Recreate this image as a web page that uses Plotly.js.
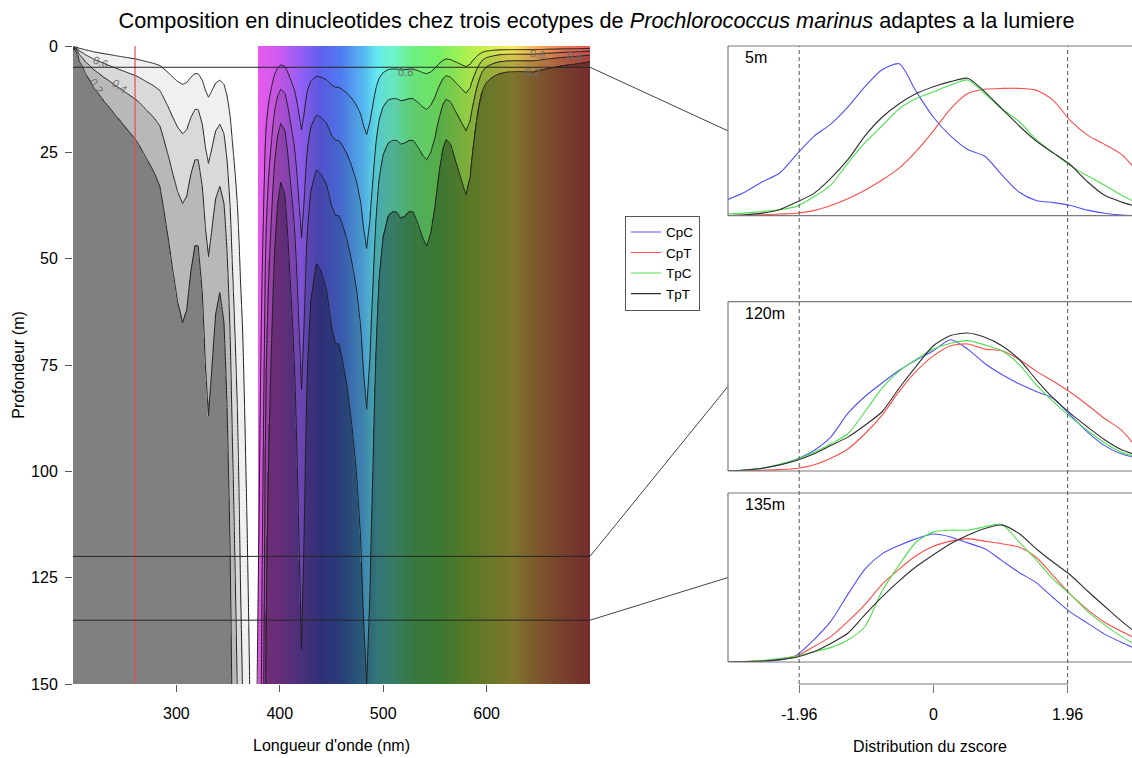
<!DOCTYPE html>
<html><head><meta charset="utf-8">
<script src="https://cdn.plot.ly/plotly-3.0.1.min.js"></script>
<style>html,body{margin:0;padding:0;background:#fff}#chart{width:1132px;height:758px}</style>
</head><body><div id="chart"></div>
<script>
// ---------------- Left panel: light vs wavelength & depth ----------------
// depth (m) at which relative light falls to 0.2, read per wavelength (nm)
const wavelengthKnots = [200,202,206,212,220,230,242,252,262,270,278,284,290,296,301,306,310,314,318,321,325,328,331,334,338,342,346,349,352,354,356,359,362,364,367,371,374,376,378,380,382.3,384.7,386.4,389,392,395,398,401,405,410,414.5,418.5,421,423.5,426.5,430,435.5,440,445,450,454,457,460,465,470,474,478,481,484,487,490,493,496,500,505,509,513,517,521,525,529,534,538,542,546,550,554,558,561,565,570,575,580,584,588,592,596,600,606,612,620,630,645,660,675,690,700];
const depth20Knots   = [0.3,0.8,3.5,6.5,9.8,13,16.6,19.5,22.5,26,29.5,33,42,52,60,65,62,53,47,47,58,75,87,77,63,58,65,85,120,160,200,270,400,480,700,1100,2000,2000,1100,800,457,255,145,100,70,48,37,32,35,55,77,116,142,116,77,60,51,53,57,66,70,70,73,80,90,100,115,135,150,130,100,72,55,45,40,39,39,40.5,40,39,39,42,45,47,44,38,30,24,22,23,27,31,35,31,22,15,10.5,8.5,7.3,6.5,6.1,6.0,6.1,5.3,4.6,4.1,3.7];
const contourLevels = [0.2, 0.4, 0.6, 0.8];
const bandShade = [0.5, 0.72, 0.85, 0.94, 1.0];      // darkening for bands <0.2 ... >0.8
const visibleStart = 380;
const spectrumWl  = [380,400,420,440,460,480,495,510,530,555,580,600,625,650,675,700];
const spectrumRGB = [[230,90,235],[205,90,240],[150,95,245],[95,95,240],[80,125,240],[85,180,240],[100,235,240],[110,245,200],[110,240,130],[120,240,100],[170,240,80],[205,240,80],[250,235,90],[250,175,90],[240,125,90],[230,90,90]];
const dnaPeakWl = 260;
const panelDepths = [5, 120, 135];
const panelLabels = ['5m', '120m', '135m'];
const depthTicks = [0, 25, 50, 75, 100, 125, 150];
const wavelengthTicks = [300, 400, 500, 600];
const contourLabelText = ['0.6','0.4','0.2','0.8','0.6','0.4','0.2'];
const contourLabelWl   = [227, 245, 223, 522, 649, 685, 644];
const contourLabelDepth= [3.8, 9.4, 9.4, 6.1, 1.9, 2.4, 6.1];
const contourLabelAngle= [20, 36, 56, 0, 8, 8, 4];

// ---------------- Right panels: z-score densities ----------------
const zscore = [-3,-2.75,-2.5,-2.25,-2,-1.75,-1.5,-1.25,-1,-0.75,-0.5,-0.25,0,0.25,0.5,0.75,1,1.25,1.5,1.75,2,2.25,2.5,2.75,3];
const zTicks = [-1.96, 0, 1.96];
const dinucleotides = ['CpC', 'CpT', 'TpC', 'TpT'];
const dinucColors = ['#5050ff', '#ff4c4c', '#50e050', '#303030'];
// 5 m
const d5_CpC = [0.096,0.14,0.20,0.25,0.36,0.466,0.54,0.64,0.76,0.86,0.895,0.73,0.58,0.47,0.39,0.35,0.24,0.14,0.09,0.077,0.06,0.033,0.014,0.004,0];
const d5_CpT = [0,0.002,0.005,0.01,0.014,0.03,0.06,0.10,0.15,0.21,0.28,0.38,0.50,0.63,0.72,0.745,0.75,0.75,0.74,0.68,0.56,0.475,0.42,0.36,0.25];
const d5_TpC = [0.01,0.015,0.025,0.035,0.055,0.11,0.18,0.31,0.43,0.53,0.63,0.69,0.73,0.77,0.80,0.72,0.63,0.555,0.45,0.37,0.295,0.235,0.18,0.12,0.07];
const d5_TpT = [0,0.005,0.015,0.035,0.08,0.13,0.22,0.33,0.47,0.58,0.66,0.72,0.76,0.79,0.81,0.73,0.63,0.53,0.44,0.37,0.30,0.20,0.12,0.08,0.05];
// 120 m
const d120_CpC = [0,0.006,0.015,0.035,0.07,0.12,0.20,0.34,0.44,0.52,0.595,0.655,0.71,0.775,0.72,0.635,0.57,0.515,0.47,0.43,0.33,0.23,0.15,0.10,0.075];
const d120_CpT = [0,0.002,0.004,0.008,0.015,0.035,0.075,0.13,0.22,0.33,0.47,0.59,0.68,0.74,0.75,0.72,0.71,0.66,0.59,0.53,0.465,0.39,0.31,0.24,0.12];
const d120_TpC = [0,0.006,0.018,0.04,0.07,0.11,0.16,0.22,0.35,0.49,0.59,0.66,0.72,0.755,0.77,0.745,0.71,0.63,0.51,0.41,0.32,0.24,0.165,0.11,0.08];
const d120_TpT = [0,0.006,0.016,0.035,0.062,0.10,0.15,0.20,0.27,0.35,0.49,0.62,0.74,0.80,0.815,0.79,0.74,0.66,0.54,0.43,0.34,0.26,0.185,0.125,0.09];
// 135 m
const d135_CpC = [0,0.002,0.004,0.01,0.04,0.13,0.24,0.40,0.55,0.64,0.69,0.73,0.757,0.74,0.705,0.67,0.60,0.53,0.47,0.38,0.295,0.23,0.165,0.115,0.07];
const d135_CpT = [0,0.003,0.008,0.015,0.035,0.09,0.15,0.24,0.34,0.46,0.55,0.63,0.685,0.715,0.73,0.715,0.70,0.68,0.62,0.51,0.40,0.31,0.235,0.18,0.13];
const d135_TpC = [0,0.003,0.008,0.02,0.035,0.06,0.085,0.13,0.21,0.42,0.575,0.71,0.77,0.78,0.78,0.80,0.815,0.71,0.605,0.49,0.40,0.30,0.22,0.15,0.09];
const d135_TpT = [0,0.002,0.006,0.015,0.028,0.06,0.11,0.17,0.28,0.385,0.48,0.565,0.635,0.70,0.75,0.79,0.81,0.76,0.67,0.59,0.515,0.42,0.33,0.24,0.16];

const densities = [
  [d5_CpC, d5_CpT, d5_TpC, d5_TpT],
  [d120_CpC, d120_CpT, d120_TpC, d120_TpT],
  [d135_CpC, d135_CpT, d135_TpC, d135_TpT]
];

// ---------------- build grids for the contour ----------------
function interpLog(x, xs, ys) {
  if (x <= xs[0]) return ys[0];
  for (let i = 1; i < xs.length; i++) {
    if (x <= xs[i]) {
      const t = (x - xs[i-1]) / (xs[i] - xs[i-1]);
      return Math.exp(Math.log(ys[i-1]) * (1 - t) + Math.log(ys[i]) * t);
    }
  }
  return ys[ys.length - 1];
}
function spectrumColor(w) {
  if (w < visibleStart) return [255,255,255];
  if (w <= spectrumWl[0]) return spectrumRGB[0];
  for (let i = 1; i < spectrumWl.length; i++) {
    if (w <= spectrumWl[i]) {
      const t = (w - spectrumWl[i-1]) / (spectrumWl[i] - spectrumWl[i-1]);
      return spectrumRGB[i-1].map((c, k) => c * (1 - t) + spectrumRGB[i][k] * t);
    }
  }
  return spectrumRGB[spectrumRGB.length - 1];
}
const wlMin = 200, wlMax = 700, depthMax = 150;
const gridWl = []; for (let w = wlMin; w <= wlMax; w += 1) gridWl.push(w);
const d20 = gridWl.map(w => interpLog(w, wavelengthKnots, depth20Knots));
const relLight = (i, d) => Math.pow(0.2, d / d20[i]);
const gridDepth = []; for (let d = 0; d <= depthMax; d += 1) gridDepth.push(d);
const zGrid = gridDepth.map(d => gridWl.map((w, i) => relLight(i, d)));

const imgDy = 0.25;
const imgRows = [];
for (let d = 0; d <= depthMax + 1e-9; d += imgDy) {
  const row = [];
  for (let i = 0; i < gridWl.length; i++) {
    const z = relLight(i, d);
    let b = 0; while (b < contourLevels.length && z >= contourLevels[b]) b++;
    const f = bandShade[b];
    const c = spectrumColor(gridWl[i]);
    row.push([Math.round(c[0]*f), Math.round(c[1]*f), Math.round(c[2]*f)]);
  }
  imgRows.push(row);
}

// ---------------- geometry ----------------
const W = 1132, H = 758;
const leftX = [73 / W, 590 / W];
const leftY = [1 - 684 / H, 1 - 46 / H];
const rightX = [728 / W, 1];
const panelY = [[1 - 215.7 / H, 1 - 46 / H], [1 - 471 / H, 1 - 301.7 / H], [1 - 662 / H, 1 - 493 / H]];
const paperYofDepth = d => leftY[0] + (1 - d / depthMax) * (leftY[1] - leftY[0]);

const traces = [];
traces.push({type: 'image', z: imgRows, x0: wlMin, dx: 1, y0: 0, dy: imgDy, xaxis: 'x', yaxis: 'y', hoverinfo: 'skip', showlegend: false});
traces.push({type: 'contour', x: gridWl, y: gridDepth, z: zGrid, xaxis: 'x', yaxis: 'y',
  autocontour: false, contours: {start: contourLevels[0], end: contourLevels[contourLevels.length-1], size: 0.2, coloring: 'none', showlabels: false},
  line: {color: '#1e1e1e', width: 1, smoothing: 1}, showscale: false, hoverinfo: 'skip', showlegend: false});

densities.forEach((panel, p) => {
  panel.forEach((vals, k) => {
    traces.push({type: 'scatter', mode: 'lines', x: zscore, y: vals, name: dinucleotides[k],
      xaxis: 'x' + (p + 2), yaxis: 'y' + (p + 2), showlegend: p === 0,
      line: {color: dinucColors[k], width: 1.1, shape: 'spline', smoothing: 0.7}, hoverinfo: 'skip'});
  });
});

const shapes = [];
shapes.push({type: 'line', xref: 'x', yref: 'y', x0: dnaPeakWl, x1: dnaPeakWl, y0: 0, y1: depthMax, line: {color: '#e0504c', width: 1.2}});
panelDepths.forEach((d, p) => {
  shapes.push({type: 'line', xref: 'x', yref: 'y', x0: wlMin, x1: wlMax, y0: d, y1: d, line: {color: '#262626', width: 1}});
  const py = paperYofDepth(d);
  const my = (panelY[p][0] + panelY[p][1]) / 2;
  shapes.push({type: 'line', xref: 'paper', yref: 'paper', x0: leftX[1], x1: rightX[0], y0: py, y1: my, line: {color: '#444', width: 1}});
  const ax = p + 2;
  const xd = 'x' + ax + ' domain', yd = 'y' + ax + ' domain';
  const boxLine = {color: '#7a7a7a', width: 1.2};
  shapes.push({type: 'line', xref: xd, yref: yd, x0: 0, x1: 1, y0: 0, y1: 0, line: boxLine});
  shapes.push({type: 'line', xref: xd, yref: yd, x0: 0, x1: 1, y0: 1, y1: 1, line: boxLine});
  shapes.push({type: 'line', xref: xd, yref: yd, x0: 0, x1: 0, y0: 0, y1: 1, line: boxLine});
});
[zTicks[0], zTicks[2]].forEach(z => {
  shapes.push({type: 'line', xref: 'x2', yref: 'paper', x0: z, x1: z, y0: leftY[0], y1: leftY[1], line: {color: '#555', width: 1, dash: '4px,3px'}});
});
shapes.push({type: 'line', xref: 'x4', yref: 'paper', x0: zTicks[0], x1: zTicks[2], y0: leftY[0], y1: leftY[0], line: {color: '#777', width: 1}});

const annotations = [];
panelLabels.forEach((t, p) => {
  annotations.push({text: t, xref: 'x' + (p + 2) + ' domain', yref: 'y' + (p + 2) + ' domain', x: 0.036, y: 0.93, xanchor: 'left', yanchor: 'middle', showarrow: false, font: {size: 16, color: '#000'}});
});
contourLabelText.forEach((t, i) => {
  annotations.push({text: t, xref: 'x', yref: 'y', x: contourLabelWl[i], y: contourLabelDepth[i], showarrow: false, textangle: contourLabelAngle[i], font: {size: 11, color: '#6e6e6e'}});
});

const hiddenAxis = {showticklabels: false, ticks: '', showgrid: false, zeroline: false, showline: false, fixedrange: true};
const layout = {
  width: W, height: H, margin: {l: 0, r: 0, t: 0, b: 0},
  paper_bgcolor: '#ffffff', plot_bgcolor: 'rgba(0,0,0,0)',
  font: {family: '"Liberation Sans", Arial, Helvetica, sans-serif', size: 16, color: '#000'},
  title: {text: 'Composition en dinucleotides chez trois ecotypes de <i>Prochlorococcus marinus</i> adaptes a la lumiere',
    x: 0.527, xanchor: 'center', xref: 'paper', y: 1 - 20 / H, yanchor: 'middle', yref: 'container', font: {size: 21.7, color: '#000'}},
  showlegend: true,
  legend: {x: 625 / W, y: 1 - 215.7 / H, xanchor: 'left', yanchor: 'top', bordercolor: '#555', borderwidth: 1, bgcolor: '#fff',
    font: {size: 13.5}, itemwidth: 30, tracegroupgap: 0},
  xaxis: {domain: leftX, range: [wlMin, wlMax], anchor: 'y', scaleanchor: false, constrain: 'range', tickvals: wavelengthTicks, ticks: 'outside', ticklen: 7, tickcolor: '#555',
    showgrid: false, zeroline: false, showline: false, automargin: false, ticklabelstandoff: 8,
    title: {text: "Longueur d'onde (nm)", standoff: 18, font: {size: 16}}},
  yaxis: {domain: leftY, range: [depthMax, 0], anchor: 'x', scaleanchor: false, constrain: 'range', tickvals: depthTicks, ticks: 'outside', ticklen: 7, tickcolor: '#555',
    showgrid: false, zeroline: false, showline: false, automargin: false, ticklabelstandoff: 4,
    title: {text: 'Profondeur (m)', standoff: 2, font: {size: 16}}},
  xaxis2: Object.assign({domain: rightX, range: [-3, 2.9], anchor: 'y2'}, hiddenAxis),
  yaxis2: Object.assign({domain: panelY[0], range: [0, 1], anchor: 'x2'}, hiddenAxis),
  xaxis3: Object.assign({domain: rightX, range: [-3, 2.9], anchor: 'y3'}, hiddenAxis),
  yaxis3: Object.assign({domain: panelY[1], range: [0, 1], anchor: 'x3'}, hiddenAxis),
  xaxis4: {domain: rightX, range: [-3, 2.9], anchor: 'free', position: leftY[0], tickvals: zTicks, ticktext: zTicks.map(String),
    ticks: 'outside', ticklen: 8, tickcolor: '#777', showgrid: false, zeroline: false, showline: false, automargin: false, ticklabelstandoff: 8,
    title: {text: 'Distribution du zscore', standoff: 18, font: {size: 16}}},
  yaxis4: Object.assign({domain: panelY[2], range: [0, 1], anchor: 'x4'}, hiddenAxis),
  shapes: shapes, annotations: annotations
};
Plotly.newPlot('chart', traces, layout, {displayModeBar: false, staticPlot: true});
</script></body></html>
